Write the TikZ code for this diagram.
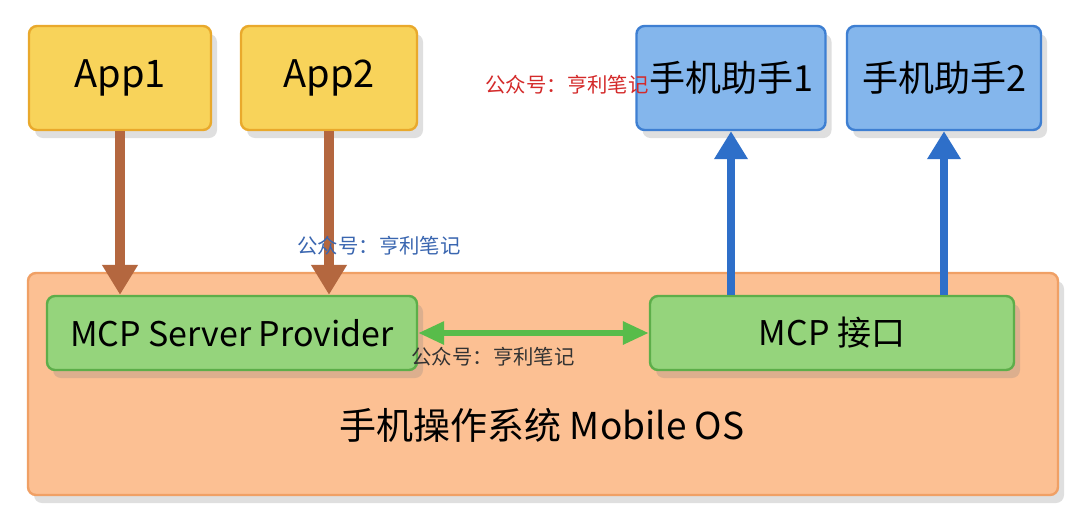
\documentclass[tikz,border=0pt]{standalone}
\usepackage{fontspec}
\setmainfont{Noto Sans CJK SC}
\usetikzlibrary{arrows.meta,shadows}

\definecolor{appfill}{HTML}{F8D35A}
\definecolor{appdraw}{HTML}{E9A92C}
\definecolor{helpfill}{HTML}{84B6EC}
\definecolor{helpdraw}{HTML}{3E7FD2}
\definecolor{mcpfill}{HTML}{95D47C}
\definecolor{mcpdraw}{HTML}{5DAE4A}
\definecolor{osfill}{HTML}{FCC093}
\definecolor{osdraw}{HTML}{F0A065}
\definecolor{brownarr}{HTML}{B4673F}
\definecolor{bluearr}{HTML}{2E6FC9}
\definecolor{greenarr}{HTML}{58BC4A}
\definecolor{wmred}{HTML}{D42A2A}
\definecolor{wmblue}{HTML}{3A66B0}

\begin{document}
\begin{tikzpicture}[x=0.5pt, y=-0.5pt]
        \tikzstyle{block}=[rounded corners=4pt, line width=1.2pt, inner sep=0pt,
                drop shadow={opacity=0.25, shadow xshift=3pt, shadow yshift=-4pt}]
        \tikzstyle{app}=[block, fill=appfill, draw=appdraw, minimum height=52pt, font=\fontsize{19}{23}\selectfont]
        \tikzstyle{helper}=[block, fill=helpfill, draw=helpdraw, minimum height=52pt, font=\fontsize{18}{22}\selectfont]
        \tikzstyle{mcp}=[block, fill=mcpfill, draw=mcpdraw, minimum height=37pt, font=\fontsize{17}{21}\selectfont]
        \tikzstyle{os}=[block, fill=osfill, draw=osdraw, minimum width=515pt, minimum height=111pt]
        \tikzstyle{apparrow}=[draw=brownarr, fill=brownarr, line width=5pt, >={Triangle[width=17pt,length=15pt]}]
        \tikzstyle{helparrow}=[draw=bluearr, fill=bluearr, line width=4pt, >={Triangle[width=16pt,length=14pt]}]
        \tikzstyle{linkarrow}=[draw=greenarr, fill=greenarr, line width=3pt, >={Triangle[width=11pt,length=13pt]}]
        \tikzstyle{watermark}=[font=\fontsize{10.2}{12}\selectfont, inner sep=0pt]

        \fill[white] (0,0) rectangle (1080,516);
        \useasboundingbox (0,0) rectangle (1080,516);

        \node[os](os) at (543, 384){};
        \node[font=\fontsize{18.5}{22}\selectfont](ostext) at (542, 425){手机操作系统 Mobile OS};

        \node[app, minimum width=91pt](app1) at (120, 78){App1};
        \node[app, minimum width=88pt](app2) at (329, 78){App2};
        \node[helper, minimum width=94.5pt](help1) at (731, 78){手机助手1};
        \node[helper, minimum width=97pt](help2) at (944, 78){手机助手2};

        \node[mcp, minimum width=185pt](provider) at (232, 333){MCP Server Provider};
        \node[mcp, minimum width=182pt](iface) at (832, 333){MCP 接口};

        \draw[apparrow, ->] (app1.south) -- (app1.south |- provider.north);
        \draw[apparrow, ->] (app2.south) -- (app2.south |- provider.north);
        \draw[helparrow, ->] (help1.south |- iface.north) -- (help1.south);
        \draw[helparrow, ->] (help2.south |- iface.north) -- (help2.south);
        \draw[linkarrow, <->] (provider.east) -- (iface.west);

        \node[watermark, text=wmred](mark1) at (567, 85){公众号：亨利笔记};
        \node[watermark, text=wmblue](mark2) at (379, 246){公众号：亨利笔记};
        \node[watermark, text=black!80](mark3) at (493, 357){公众号：亨利笔记};

        \end{tikzpicture}
\end{document}
